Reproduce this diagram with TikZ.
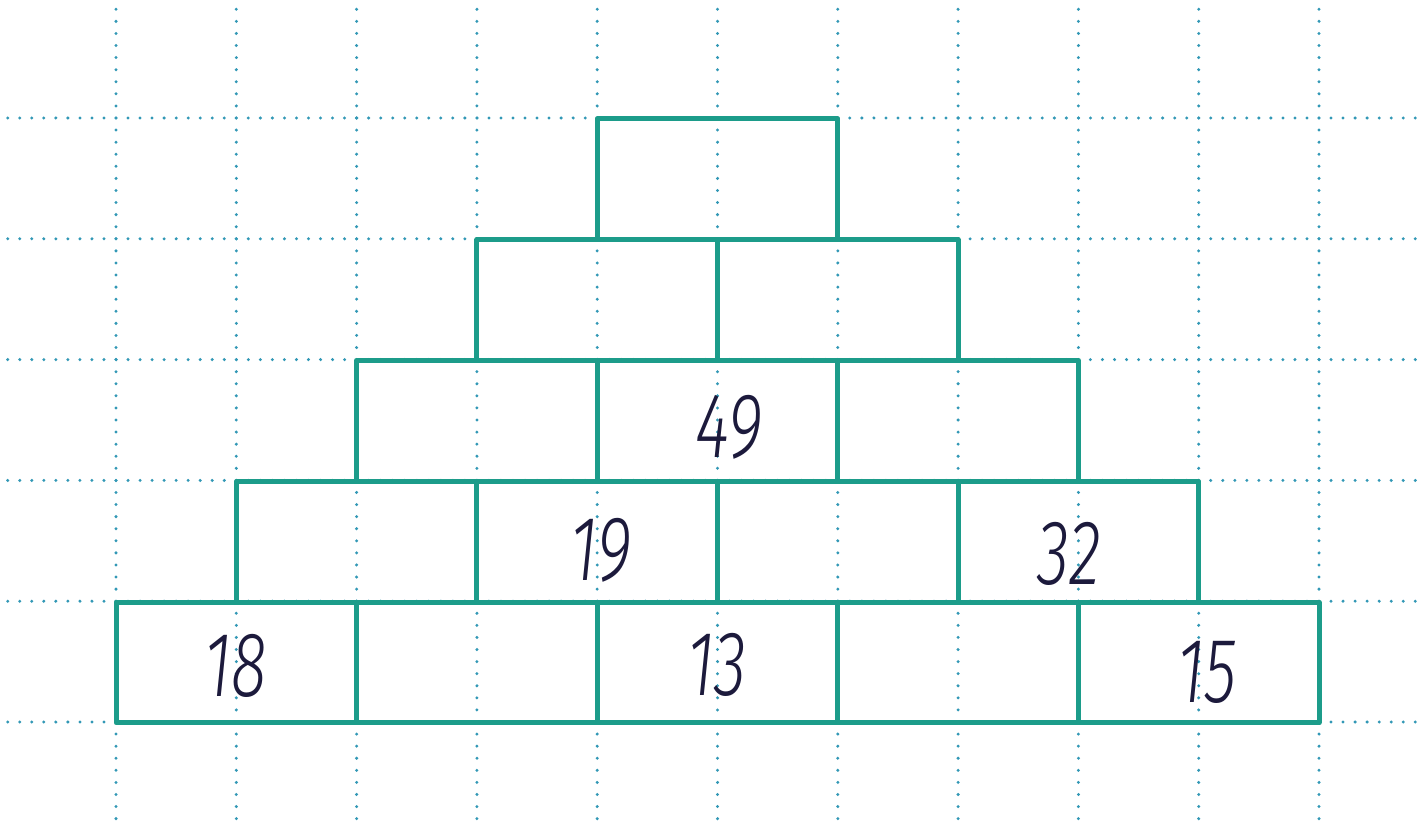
\documentclass[tikz,border=0pt]{standalone}
\usepackage{fontspec}
\newfontfamily\hand{Fira Sans Light Italic}
\definecolor{gridc}{HTML}{3298B6}
\definecolor{brickc}{HTML}{1C9C8A}
\definecolor{inkc}{HTML}{1C1A3C}
\tikzset{
  griddots/.style={gridc, line width=3.3pt, line cap=round, dash pattern=on 0pt off #1},
  brick/.style={draw=brickc, line width=5pt, line join=round, minimum width=240.6pt, minimum height=120.8pt, inner sep=0pt, rectangle},
  num/.style={inkc, font=\hand\fontsize{92}{92}\selectfont, inner sep=0pt}
}
\begin{document}
\begin{tikzpicture}[x=1pt,y=-1pt]
\useasboundingbox (0,0) rectangle (1426,826);
\fill[white] (0,0) rectangle (1426,826);
% grid
\foreach \k in {0,...,10}{
  \draw[griddots=12.08pt] ({116+120.3*\k},-2.8) -- ({116+120.3*\k},826);
}
\foreach \j in {0,...,5}{
  \draw[griddots=12.03pt] (-4.3,{118+120.8*\j}) -- (1426,{118+120.8*\j});
}
% bricks
\foreach \r in {0,...,4}{
  \pgfmathtruncatemacro{\n}{4-\r}
  \foreach \i in {0,...,\n}{
    \node[brick] (b-\r-\i) at ({116+120.3*\r+240.6*\i+120.3},{662.4-120.8*\r}) {};
  }
}
% numbers
\node[num] (n49) at (729,427) {\scalebox{0.72}[1]{49}};
\node[num] (n19) at (601,550) {\scalebox{0.72}[1]{19}};
\node[num] (n32) at (1069,554) {\scalebox{0.72}[1]{32}};
\node[num] (n18) at (236,666) {\scalebox{0.72}[1]{18}};
\node[num] (n13) at (717,665) {\scalebox{0.72}[1]{13}};
\node[num] (n15) at (1207,672) {\scalebox{0.72}[1]{15}};
\end{tikzpicture}
\end{document}
